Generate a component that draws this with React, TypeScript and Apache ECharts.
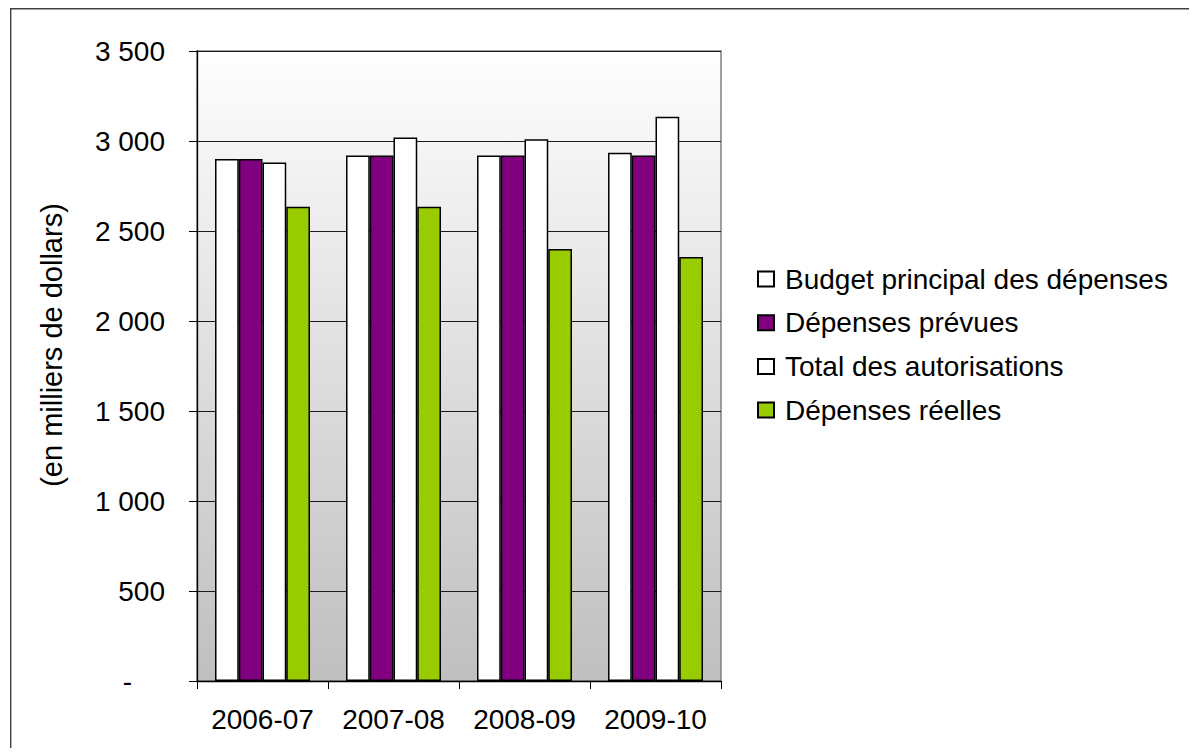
import React, { useEffect, useRef } from "react";
import * as echarts from "echarts";

const categories = ["2006-07", "2007-08", "2008-09", "2009-10"];
const seriesNames = [
  "Budget principal des dépenses",
  "Dépenses prévues",
  "Total des autorisations",
  "Dépenses réelles",
];
const budgetPrincipal = [2900, 2920, 2920, 2935];
const depensesPrevues = [2900, 2920, 2920, 2920];
const totalAutorisations = [2880, 3020, 3010, 3135];
const depensesReelles = [2635, 2635, 2400, 2355];
const seriesColors = ["#ffffff", "#800080", "#ffffff", "#99cc00"];
const yAxisName = "(en milliers de dollars)";

const FONT = "'Liberation Sans', Arial, sans-serif";

function fmt(v: number): string {
  if (v === 0) return "{d|-}";
  if (v >= 1000) {
    const th = Math.floor(v / 1000);
    const rest = String(v % 1000).padStart(3, "0");
    return th + " " + rest;
  }
  return String(v);
}

export default function App() {
  const ref = useRef<HTMLDivElement>(null);
  useEffect(() => {
    if (!ref.current) return;
    const chart = echarts.init(ref.current, undefined, { renderer: "svg" });
    const values = [budgetPrincipal, depensesPrevues, totalAutorisations, depensesReelles];
    chart.setOption({
      animation: false,
      backgroundColor: "#ffffff",
      textStyle: { fontFamily: FONT },
      grid: {
        left: 189,
        right: 468,
        top: 43,
        bottom: 67,
        show: true,
        borderColor: "#808080",
        borderWidth: 1.5,
        backgroundColor: new echarts.graphic.LinearGradient(0, 0, 0, 1, [
          { offset: 0, color: "#fefefe" },
          { offset: 1, color: "#bfbfbf" },
        ]),
      },
      legend: {
        orient: "vertical",
        left: 749,
        top: 256,
        padding: 0,
        itemWidth: 16,
        itemHeight: 15,
        itemGap: 13.7,
        icon: "rect",
        textStyle: {
          fontFamily: FONT,
          fontSize: 28,
          lineHeight: 30,
          color: "#000",
          padding: [0, 0, 0, 6],
        },
        data: seriesNames,
      },
      xAxis: {
        type: "category",
        data: categories,
        axisLine: { lineStyle: { color: "#000", width: 1.3 } },
        axisTick: { show: true, length: 8, lineStyle: { color: "#000" } },
        axisLabel: { interval: 0, fontSize: 28, color: "#000", margin: 24, fontFamily: FONT },
      },
      yAxis: {
        type: "value",
        min: 0,
        max: 3500,
        interval: 500,
        axisLine: { show: true, lineStyle: { color: "#000", width: 1.3 } },
        axisTick: { show: true, length: 8, lineStyle: { color: "#000" } },
        axisLabel: {
          fontSize: 28,
          color: "#000",
          margin: 32,
          fontFamily: FONT,
          formatter: fmt,
          rich: { d: { fontSize: 28, fontFamily: FONT, color: "#000", padding: [0, 33, 0, 0] } },
        },
        splitLine: { show: true, lineStyle: { color: "#1a1a1a", width: 1.2 } },
      },
      series: seriesNames.map((name, i) => ({
        name,
        type: "bar",
        data: values[i],
        barGap: "0%",
        barCategoryGap: "27.5%",
        itemStyle: { color: seriesColors[i], borderColor: "#000", borderWidth: 1.5 },
      })),
      graphic: [
        {
          type: "line",
          shape: { x1: 2, y1: 0.7, x2: 1181, y2: 0.7 },
          style: { stroke: "#404040", lineWidth: 1.4 },
        },
        {
          type: "line",
          shape: { x1: 2.7, y1: 0, x2: 2.7, y2: 740 },
          style: { stroke: "#404040", lineWidth: 1.4 },
        },
        {
          type: "text",
          x: 44,
          y: 337,
          rotation: Math.PI / 2,
          style: {
            text: yAxisName,
            fontSize: 29,
            fontFamily: FONT,
            fill: "#000",
            textAlign: "center",
            textVerticalAlign: "middle",
          },
        },
      ],
    });
    return () => chart.dispose();
  }, []);
  return <div ref={ref} style={{ width: 1181, height: 740 }} />;
}
